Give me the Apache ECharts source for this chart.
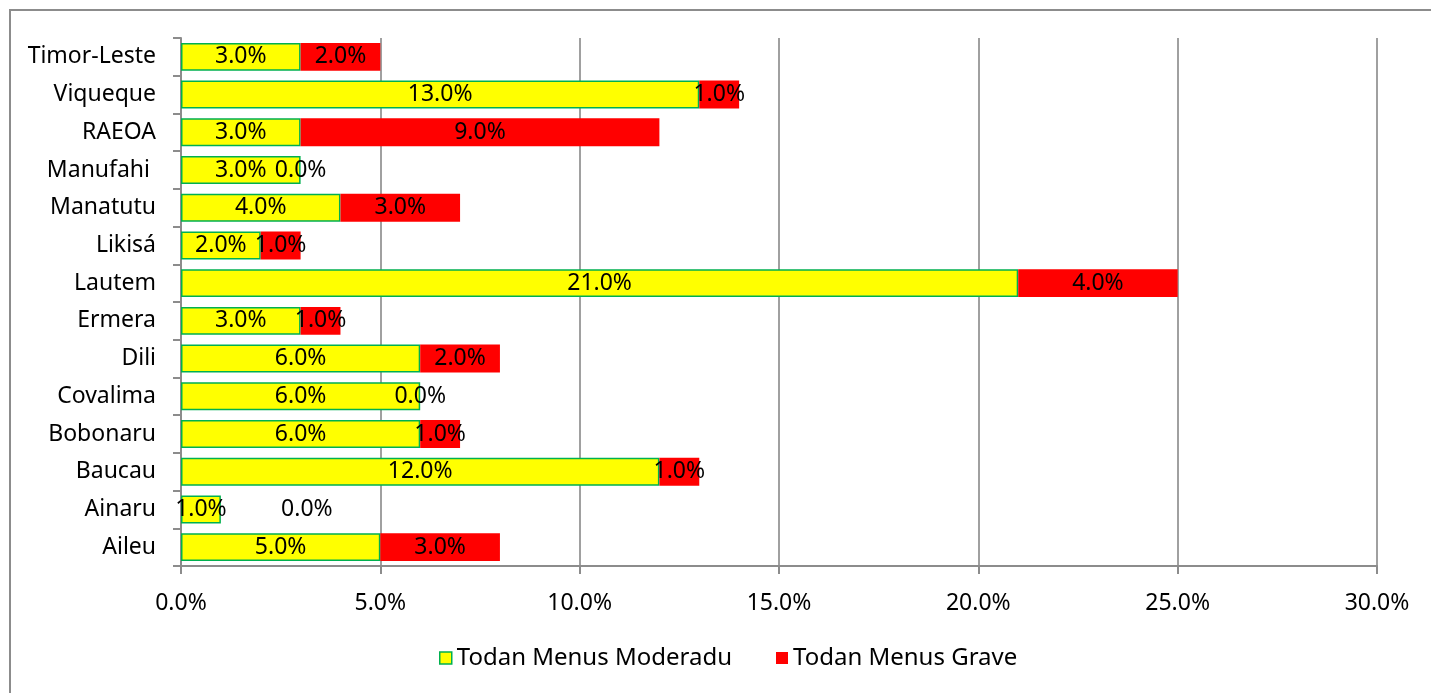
<!DOCTYPE html>
<html><head><meta charset="utf-8">
<script src="https://cdn.jsdelivr.net/npm/echarts@6/dist/echarts.min.js"></script>
<style>html,body{margin:0;padding:0;background:#fff}#c{width:1431px;height:693px;position:relative}
#frame{position:absolute;left:9px;top:9px;width:1440px;height:700px;border:2px solid #8c8c8c;box-sizing:border-box;pointer-events:none}</style>
</head><body><div id="c"></div><div id="frame"></div>
<script>
const categories = ['Aileu','Ainaru','Baucau','Bobonaru','Covalima','Dili','Ermera','Lautem','Likisá','Manatutu','Manufahi ','RAEOA','Viqueque','Timor-Leste'];
const moderadu = [5,1,12,6,6,6,3,21,2,4,3,3,13,3];
const grave = [3,0,1,1,0,2,1,4,1,3,0,9,1,2];
const xTicks = [0,5,10,15,20,25,30];
const seriesNames = ['Todan Menus Moderadu','Todan Menus Grave'];

const FONT = 'Noto Sans';
const FS = 23;
const fmt = p => p.value.toFixed(1) + '%';
const chart = echarts.init(document.getElementById('c'), null, {renderer:'canvas'});
chart.setOption({
  animation:false,
  textStyle:{fontFamily:FONT},
  grid:{left:181,right:54,top:38,bottom:127,containLabel:false},
  legend:{
    bottom:18,left:434,itemWidth:12,itemHeight:12,itemGap:44,
    textStyle:{fontFamily:FONT,fontSize:24,color:'#000'},
    data:[{name:seriesNames[0],icon:'rect',itemStyle:{color:'#ffff00',borderColor:'#00b050',borderWidth:1.5}},
          {name:seriesNames[1],icon:'rect',itemStyle:{color:'#ff0000'}}]
  },
  xAxis:{
    type:'value',min:xTicks[0],max:xTicks[xTicks.length-1],interval:5,
    axisLine:{show:true,lineStyle:{color:'#8c8c8c',width:2}},
    axisTick:{show:true,length:8,lineStyle:{color:'#8c8c8c',width:2}},
    splitLine:{show:true,lineStyle:{color:'#a0a0a0',width:2}},
    axisLabel:{margin:26,fontSize:FS,color:'#000',fontFamily:FONT,formatter:v=>v.toFixed(1)+'%'}
  },
  yAxis:{
    type:'category',data:categories,
    axisLine:{show:true,lineStyle:{color:'#8c8c8c',width:2}},
    axisTick:{show:true,length:8,lineStyle:{color:'#8c8c8c',width:2}},
    axisLabel:{margin:25,fontSize:FS,color:'#000',fontFamily:FONT}
  },
  series:[
    {name:seriesNames[0],type:'bar',stack:'s',barCategoryGap:'26%',data:moderadu,
     itemStyle:{color:'#ffff00',borderColor:'#00b050',borderWidth:1.5},
     label:{show:true,position:'inside',color:'#000',fontSize:FS,fontFamily:FONT,formatter:fmt}},
    {name:seriesNames[1],type:'bar',stack:'s',barCategoryGap:'26%',
     data:grave.map((v,i)=> (v===0 && moderadu[i] < 2) ? {value:v,label:{offset:[86,0]}} : v),
     itemStyle:{color:'#ff0000'},
     label:{show:true,position:'inside',color:'#000',fontSize:FS,fontFamily:FONT,formatter:fmt}}
  ]
});
</script></body></html>
